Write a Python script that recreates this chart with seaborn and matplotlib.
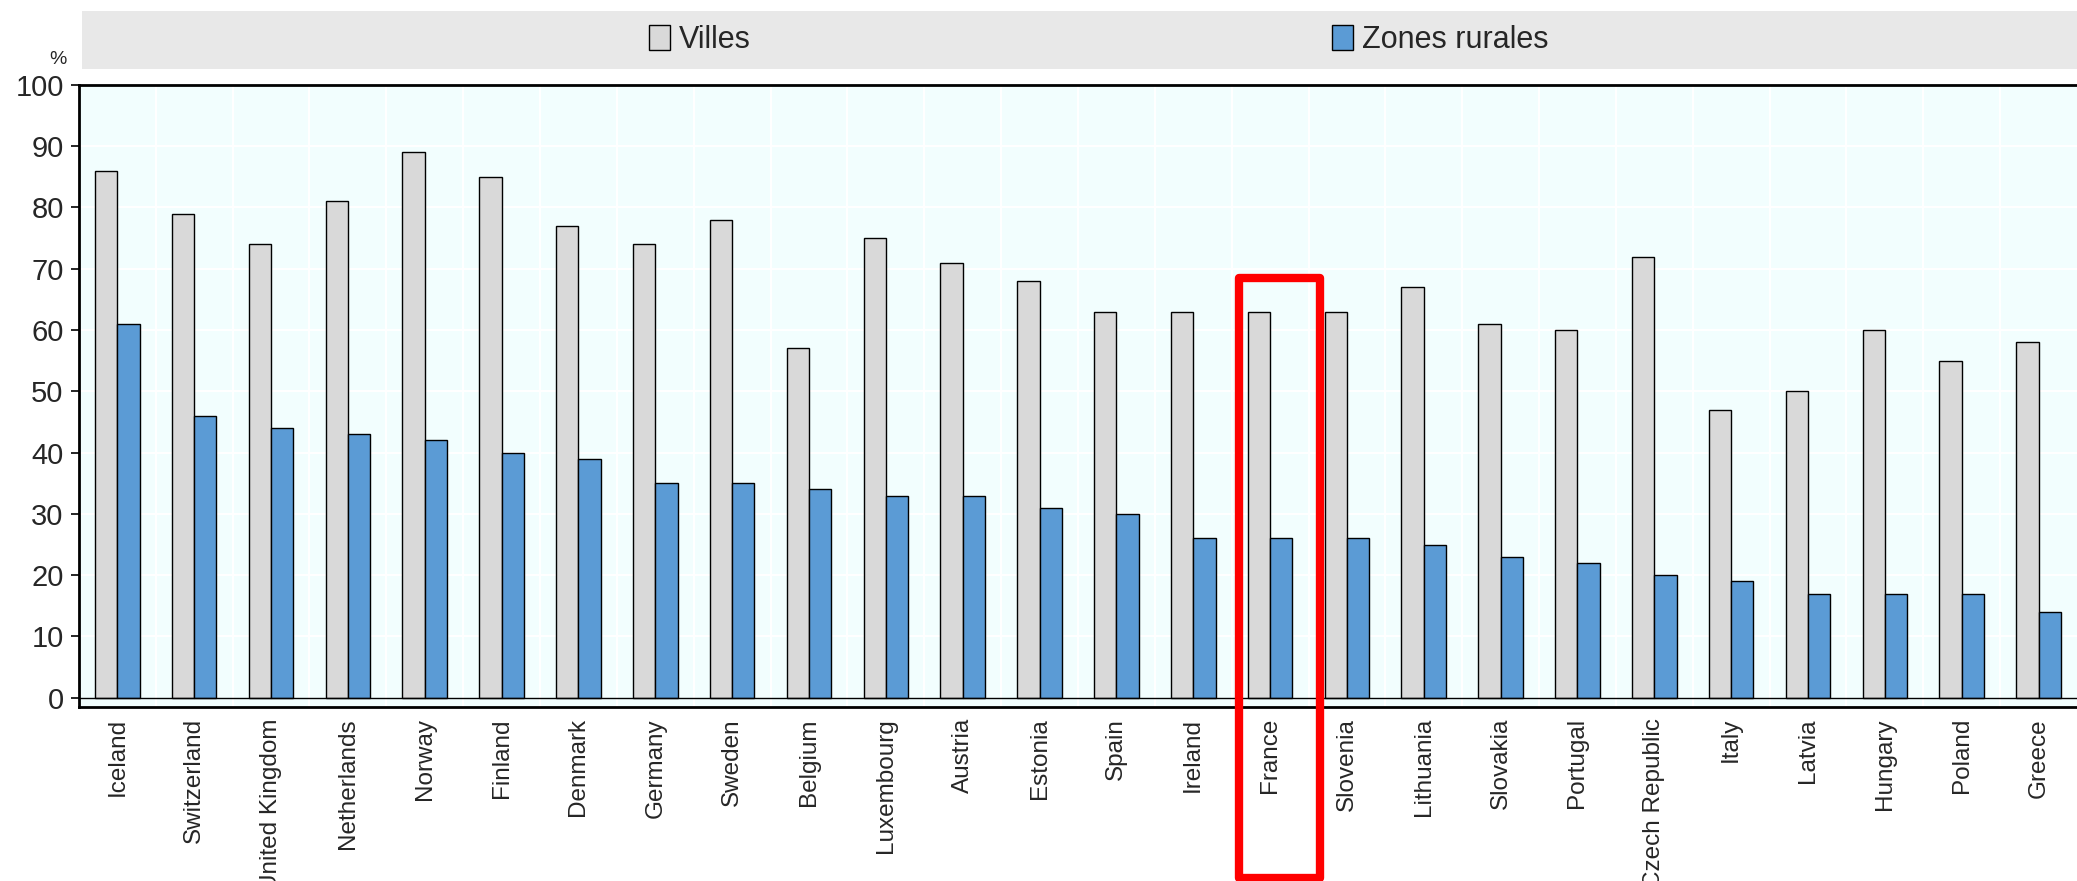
import numpy as np
import pandas as pd
import seaborn as sns
import matplotlib.pyplot as plt
from matplotlib.patches import Patch, Rectangle

# data
countries = ['Iceland', 'Switzerland', 'United Kingdom', 'Netherlands', 'Norway', 'Finland',
             'Denmark', 'Germany', 'Sweden', 'Belgium', 'Luxembourg', 'Austria', 'Estonia',
             'Spain', 'Ireland', 'France', 'Slovenia', 'Lithuania', 'Slovakia', 'Portugal',
             'Czech Republic', 'Italy', 'Latvia', 'Hungary', 'Poland', 'Greece']
villes = [86, 79, 74, 81, 89, 85, 77, 74, 78, 57, 75, 71, 68, 63, 63, 63, 63, 67, 61, 60,
          72, 47, 50, 60, 55, 58]
rurales = [61, 46, 44, 43, 42, 40, 39, 35, 35, 34, 33, 33, 31, 30, 26, 26, 26, 25, 23, 22,
           20, 19, 17, 17, 17, 14]
series = ['Villes', 'Zones rurales']
colors = ['#d9d9d9', '#5b9bd5']

df = pd.DataFrame({'country': countries * 2,
                   'serie': [series[0]] * len(countries) + [series[1]] * len(countries),
                   'value': villes + rurales})

sns.set_style('white')
plt.rcParams['font.family'] = ['Liberation Sans Narrow', 'Liberation Sans', 'DejaVu Sans']

fig = plt.figure(figsize=(20.77, 8.81), dpi=100)
ax = fig.add_axes([0.038, 0.1976, 0.962, 0.706])
ax.set_facecolor('#f2fefe')

sns.barplot(data=df, x='country', y='value', hue='serie', palette=colors, saturation=1,
            width=0.58, gap=0, edgecolor='black', linewidth=1, legend=False, ax=ax,
            zorder=3)

ax.set_xlim(-0.5, len(countries) - 0.5)
ax.set_ylim(-1.5, 100)
ax.set_yticks(np.arange(0, 101, 10))
ax.set_xlabel('')
ax.set_ylabel('')

# white grid at group boundaries and every 10
for k in range(len(countries) - 1):
    ax.axvline(k + 0.5, color='white', lw=1.5, zorder=1)
for v in range(10, 100, 10):
    ax.axhline(v, color='white', lw=1.5, zorder=1)
ax.axhline(0, color='black', lw=1, zorder=4)

for s in ['left', 'top', 'bottom']:
    ax.spines[s].set_color('black')
    ax.spines[s].set_linewidth(2)
ax.spines['right'].set_visible(False)

ax.tick_params(axis='y', direction='out', length=6, width=1.2, color='black',
               labelsize=21, pad=5, left=True)
ax.set_xticks(np.arange(len(countries)))
ax.set_xticklabels(countries, rotation=90, fontsize=17.5)
ax.tick_params(axis='x', which='major', length=0, pad=8)
ax.set_xticks(np.arange(len(countries) - 1) + 0.5, minor=True)
ax.tick_params(axis='x', which='minor', direction='in', length=8, width=1.2,
               color='black', bottom=True)

fig.text(0.028, 0.932, '%', fontsize=14, ha='center', va='center')

# highlight France
fr = countries.index('France')
ax.add_patch(Rectangle((fr - 0.4, -29.5), 1.05, 98, fill=False, edgecolor='#ff0000',
                       lw=6, joinstyle='round', clip_on=False, zorder=10))

# legend band
fig.patches.append(Rectangle((0.0395, 0.922), 0.9605, 0.066, transform=fig.transFigure,
                             facecolor='#e8e8e8', edgecolor='none', zorder=0))
handles = [Patch(facecolor=c, edgecolor='black', lw=1) for c in colors]
fig.legend(handles, series, loc='center', bbox_to_anchor=(0.529, 0.955), ncol=2,
           frameon=False, fontsize=22, handlelength=0.7, handleheight=0.9,
           handletextpad=0.3, columnspacing=19)

plt.savefig('out.png', dpi=100)
